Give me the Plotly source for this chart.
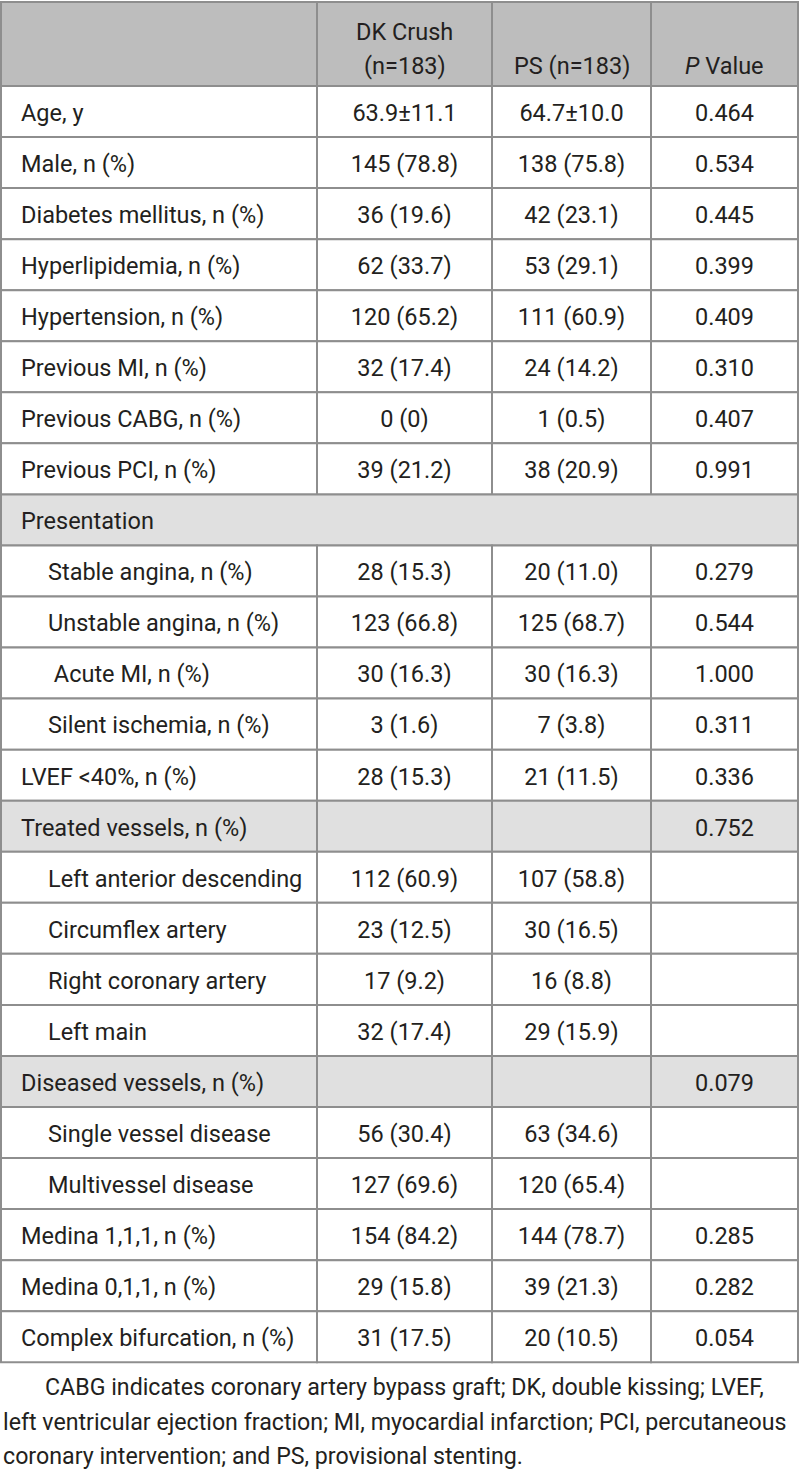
import plotly.graph_objects as go

FONT = "Roboto, Liberation Sans, sans-serif"
INK = "#231f20"
HEAD_BG = "#bdbdbd"
SECT_BG = "#e0e0e0"
ROW_BG = "#ffffff"
GRID = "#8e8e8e"

# table data
variables = [
    "Age, y", "Male, n (%)", "Diabetes mellitus, n (%)", "Hyperlipidemia, n (%)",
    "Hypertension, n (%)", "Previous MI, n (%)", "Previous CABG, n (%)",
    "Previous PCI, n (%)", "Presentation",
    "Stable angina, n (%)", "Unstable angina, n (%)", "\u00a0Acute MI, n (%)",
    "Silent ischemia, n (%)", "LVEF <40%, n (%)", "Treated vessels, n (%)",
    "Left anterior descending", "Circumflex artery", "Right coronary artery",
    "Left main", "Diseased vessels, n (%)", "Single vessel disease",
    "Multivessel disease", "Medina 1,1,1, n (%)", "Medina 0,1,1, n (%)",
    "Complex bifurcation, n (%)",
]
indented = [
    False, False, False, False, False, False, False, False, False,
    True, True, True, True, False, False, True, True, True, True, False,
    True, True, False, False, False,
]
dk_crush = [
    "63.9±11.1", "145 (78.8)", "36 (19.6)", "62 (33.7)", "120 (65.2)", "32 (17.4)",
    "0 (0)", "39 (21.2)", "", "28 (15.3)", "123 (66.8)", "30 (16.3)", "3 (1.6)",
    "28 (15.3)", "", "112 (60.9)", "23 (12.5)", "17 (9.2)", "32 (17.4)", "",
    "56 (30.4)", "127 (69.6)", "154 (84.2)", "29 (15.8)", "31 (17.5)",
]
ps = [
    "64.7±10.0", "138 (75.8)", "42 (23.1)", "53 (29.1)", "111 (60.9)", "24 (14.2)",
    "1 (0.5)", "38 (20.9)", "", "20 (11.0)", "125 (68.7)", "30 (16.3)", "7 (3.8)",
    "21 (11.5)", "", "107 (58.8)", "30 (16.5)", "16 (8.8)", "29 (15.9)", "",
    "63 (34.6)", "120 (65.4)", "144 (78.7)", "39 (21.3)", "20 (10.5)",
]
p_value = [
    "0.464", "0.534", "0.445", "0.399", "0.409", "0.310", "0.407", "0.991", "",
    "0.279", "0.544", "1.000", "0.311", "0.336", "0.752", "", "", "", "", "0.079",
    "", "", "0.285", "0.282", "0.054",
]
section_rows = ["Treated vessels, n (%)", "Diseased vessels, n (%)"]
merged_rows = ["Presentation"]

footnote_lines = [
    "CABG indicates coronary artery bypass graft; DK, double kissing; LVEF,",
    "left ventricular ejection fraction; MI, myocardial infarction; PCI, percutaneous",
    "coronary intervention; and PS, provisional stenting.",
]

# layout geometry (pixels)
W, H = 800, 1471
COL_EDGES = [1, 317, 492, 651, 798]
TABLE_TOP, HEAD_BOTTOM, ROW_H = 2, 86, 51.05
FS = 23.5

n = len(variables)
row_top = [HEAD_BOTTOM + i * ROW_H for i in range(n)]
row_mid = [t + ROW_H / 2 + 3.5 for t in row_top]
col_mid = [(COL_EDGES[i] + COL_EDGES[i + 1]) / 2 for i in range(4)]

fig = go.Figure()

# header cells
for c in range(4):
    fig.add_shape(type="rect", x0=COL_EDGES[c], x1=COL_EDGES[c + 1],
                  y0=TABLE_TOP, y1=HEAD_BOTTOM, fillcolor=HEAD_BG,
                  line=dict(color=GRID, width=2), layer="below")

# body cells
for i, v in enumerate(variables):
    fill = SECT_BG if (v in section_rows or v in merged_rows) else ROW_BG
    if v in merged_rows:
        fig.add_shape(type="rect", x0=COL_EDGES[0], x1=COL_EDGES[-1],
                      y0=row_top[i], y1=row_top[i] + ROW_H, fillcolor=fill,
                      line=dict(color=GRID, width=2), layer="below")
        continue
    for c in range(4):
        fig.add_shape(type="rect", x0=COL_EDGES[c], x1=COL_EDGES[c + 1],
                      y0=row_top[i], y1=row_top[i] + ROW_H, fillcolor=fill,
                      line=dict(color=GRID, width=2), layer="below")

txt_font = dict(family=FONT, size=FS, color=INK)
first_x = [48 if ind else 21 for ind in indented]
fig.add_trace(go.Scatter(
    x=first_x, y=row_mid, text=variables, mode="text",
    textposition="middle right", textfont=txt_font, hoverinfo="skip"))
for c, col in enumerate([dk_crush, ps, p_value], start=1):
    fig.add_trace(go.Scatter(
        x=[col_mid[c]] * n, y=row_mid, text=col, mode="text",
        textposition="middle center", textfont=txt_font, hoverinfo="skip"))

# header text
headers = [("DK Crush", 1, 32), ("(n=183)", 1, 66), ("PS (n=183)", 2, 66),
           ("<i>P</i> Value", 3, 66)]
for text, c, y in headers:
    fig.add_annotation(text=text, x=col_mid[c], y=y, xref="x", yref="y",
                       showarrow=False, font=txt_font,
                       xanchor="center", yanchor="middle")

# footnote
for k, line in enumerate(footnote_lines):
    fig.add_annotation(text=line, x=43 if k == 0 else 1, y=1387 + k * 34.5,
                       xref="x", yref="y", showarrow=False,
                       font=dict(family=FONT, size=23.2, color=INK),
                       xanchor="left", yanchor="middle")

fig.update_layout(
    width=W, height=H, margin=dict(l=0, r=0, t=0, b=0),
    paper_bgcolor="white", plot_bgcolor="white", showlegend=False,
    xaxis=dict(range=[0, W], visible=False, fixedrange=True),
    yaxis=dict(range=[H, 0], visible=False, fixedrange=True),
)
fig.write_html("out.html", config={"displayModeBar": False},
               post_script="document.body.style.margin='0';")
